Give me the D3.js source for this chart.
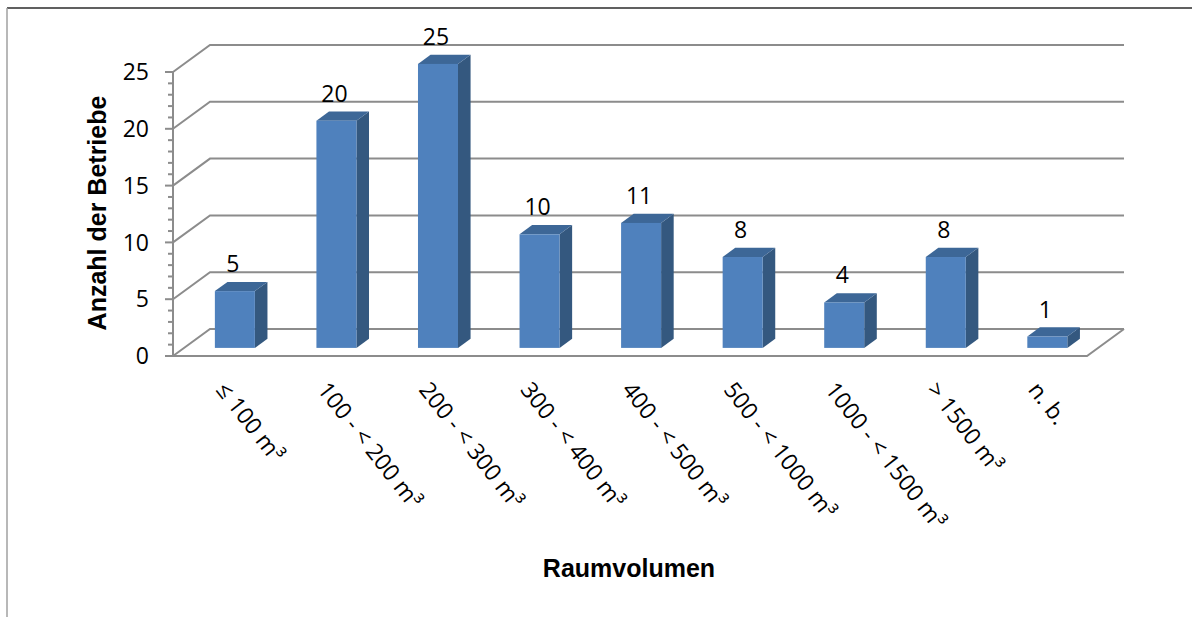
<!DOCTYPE html>
<html lang="de">
<head>
<meta charset="UTF-8">
<script src="https://d3js.org/d3.v7.min.js"></script>
<style>
body { margin: 0; background: #fff; }
text { font-family: "Open Sans", Lato, sans-serif; fill: #000; }
.title { font-family: "Liberation Sans", Arial, sans-serif; font-weight: bold; }
</style>
</head>
<body>
<div id="chart"></div>
<script>
// data
const categories = ["≤ 100 m³", "100 - < 200 m³", "200 - < 300 m³", "300 - < 400 m³",
  "400 - < 500 m³", "500 - < 1000 m³", "1000 - < 1500 m³", "> 1500 m³", "n. b."];
const counts = [5, 20, 25, 10, 11, 8, 4, 8, 1];
const yTicks = [0, 5, 10, 15, 20, 25];
const yMinorTicks = d3.range(0, 26, 1);

const width = 1192, height = 617;

// front plane
const plotLeft = 173, plotRight = 1087, plotBottom = 356, plotTop = 72;
// depth of the 3d box
const depthX = 37, depthY = -27;
// bars sit between these depth fractions
const barFront = 0.3, barBack = 0.64;

const svg = d3.select("#chart").append("svg")
  .attr("width", width)
  .attr("height", height);

// outer frame
svg.append("line").attr("x1", 7).attr("x2", width).attr("y1", 8).attr("y2", 8)
  .attr("stroke", "#2b2b2b").attr("stroke-width", 1.5);
svg.append("line").attr("x1", 7).attr("x2", 7).attr("y1", 8).attr("y2", height)
  .attr("stroke", "#a0a0a0").attr("stroke-width", 1.5);

const x = d3.scaleBand().domain(categories).range([plotLeft, plotRight]).paddingInner(0.606).paddingOuter(0.303);
const y = d3.scaleLinear().domain([0, 25]).range([plotBottom, plotTop]);

const grid = svg.append("g").attr("stroke", "#8c8c8c").attr("stroke-width", 2).attr("fill", "none");

// side wall + back wall gridlines
yTicks.forEach(v => {
  const yf = y(v), yb = y(v) + depthY;
  grid.append("path")
    .attr("d", `M${plotLeft},${yf}L${plotLeft + depthX},${yb}L${plotRight + depthX},${yb}`);
});
// floor front edge and right edge
grid.append("path")
  .attr("d", `M${plotLeft},${y(0)}L${plotRight},${y(0)}L${plotRight + depthX},${y(0) + depthY}`);

// y axis line and ticks
const axis = svg.append("g").attr("stroke", "#8c8c8c").attr("stroke-width", 2);
axis.append("line").attr("x1", plotLeft).attr("x2", plotLeft).attr("y1", y(25)).attr("y2", y(0));
axis.selectAll(".minor").data(yMinorTicks).join("line")
  .attr("x1", d => d % 5 === 0 ? plotLeft - 8 : plotLeft - 5)
  .attr("x2", plotLeft)
  .attr("y1", d => y(d)).attr("y2", d => y(d));

svg.append("g").selectAll("text").data(yTicks).join("text")
  .attr("x", 149)
  .attr("y", d => y(d))
  .attr("dy", "0.36em")
  .attr("text-anchor", "end")
  .style("font-size", "23px")
  .text(d => d);

// bars
const ox = depthX * barFront, oy = depthY * barFront;
const dx = depthX * (barBack - barFront), dy = depthY * (barBack - barFront);
const bw = x.bandwidth();

const bars = svg.append("g").selectAll("g").data(counts).join("g")
  .attr("transform", (d, i) => `translate(${x(categories[i]) + ox},${oy})`);

bars.append("path") // side
  .attr("fill", "#34587f")
  .attr("d", d => `M${bw},${y(d)}L${bw + dx},${y(d) + dy}L${bw + dx},${y(0) + dy}L${bw},${y(0)}Z`);
bars.append("path") // top
  .attr("fill", "#3d6797")
  .attr("d", d => `M0,${y(d)}L${dx},${y(d) + dy}L${bw + dx},${y(d) + dy}L${bw},${y(d)}Z`);
bars.append("rect") // front
  .attr("fill", "#4f81bd")
  .attr("x", 0)
  .attr("y", d => y(d))
  .attr("width", bw)
  .attr("height", d => y(0) - y(d));

bars.append("text")
  .attr("x", bw / 2 - 2)
  .attr("y", d => y(d) - 19)
  .attr("text-anchor", "middle")
  .style("font-size", "23px")
  .text(d => d);

// category labels
svg.append("g").selectAll("text").data(categories).join("text")
  .attr("transform", d => `translate(${x(d) + ox + bw / 2 - 20},${390}) rotate(52)`)
  .style("font-size", "23px")
  .text(d => d);

// axis titles
svg.append("text").attr("class", "title")
  .attr("transform", `translate(106,${(y(0) + y(25)) / 2 - 1}) rotate(-90)`)
  .attr("text-anchor", "middle")
  .style("font-size", "25px")
  .text("Anzahl der Betriebe");

svg.append("text").attr("class", "title")
  .attr("x", 629).attr("y", 577)
  .attr("text-anchor", "middle")
  .style("font-size", "25px")
  .text("Raumvolumen");
</script>
</body>
</html>
